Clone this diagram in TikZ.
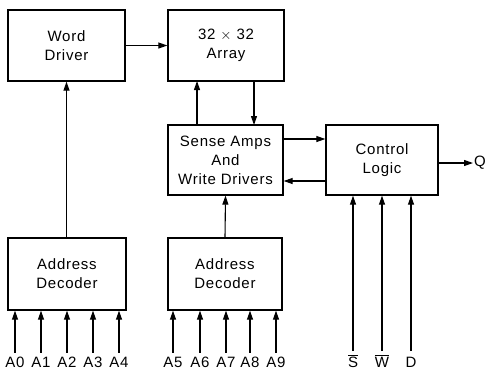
\documentclass[tikz,border=0pt]{standalone}
\usepackage{fontspec}
\setmainfont{Liberation Sans}[LetterSpace=5]
\usepackage{tikz}
\usetikzlibrary{arrows.meta,positioning,calc}

\begin{document}
\begin{tikzpicture}[
    x=1pt, y=-1pt,
    font=\fontsize{15}{19}\selectfont,
    blk/.style={draw, line width=1.3pt, inner sep=0pt, align=center},
    pin/.style={inner sep=1pt},
    arrow/.style={-{Triangle[length=9pt,width=6pt]}, line width=1.1pt}
]
\useasboundingbox (0,0) rectangle (486,373);

% Blocks
\node[blk, minimum width=117, minimum height=71] (wdrv) at (66.5,45.5) {Word\\Driver};
\node[blk, minimum width=116, minimum height=71] (arr) at (226,45.5) {32 $\times$ 32\\Array};
\node[blk, minimum width=115, minimum height=70] (sense) at (225.5,160) {Sense Amps\\And\\Write Drivers};
\node[blk, minimum width=112, minimum height=70] (ctrl) at (382,160) {Control\\Logic};
\node[blk, minimum width=118, minimum height=72] (dec1) at (67,274) {Address\\Decoder};
\node[blk, minimum width=114, minimum height=72] (dec2) at (225,274) {Address\\Decoder};

% Connections between blocks
\draw[arrow] (wdrv.east) -- (arr.west);
\draw[arrow] (dec1.north -| wdrv.south) -- (wdrv.south);
\draw[arrow] (197,125) -- (197,81);
\draw[arrow] (254,81) -- (254,125);
\draw[arrow] (dec2.north) -- (sense.south);
\draw[arrow] (sense.east |- 0,139) -- (ctrl.west |- 0,139);
\draw[arrow] (ctrl.west |- 0,181) -- (sense.east |- 0,181);

% Output
\node[pin, inner sep=0pt, anchor=west] (q) at (474,163) {Q};
\draw[arrow] (ctrl.east |- q.west) -- ([xshift=-1pt]q.west);

% Address inputs, low decoder
\node[pin] (a0) at (15,362) {A0};
\node[pin] (a1) at (41,362) {A1};
\node[pin] (a2) at (67,362) {A2};
\node[pin] (a3) at (93,362) {A3};
\node[pin] (a4) at (119,362) {A4};
\draw[arrow] ([yshift=3pt]a0.north) -- (a0 |- dec1.south);
\draw[arrow] ([yshift=3pt]a1.north) -- (a1 |- dec1.south);
\draw[arrow] ([yshift=3pt]a2.north) -- (a2 |- dec1.south);
\draw[arrow] ([yshift=3pt]a3.north) -- (a3 |- dec1.south);
\draw[arrow] ([yshift=3pt]a4.north) -- (a4 |- dec1.south);

% Address inputs, high decoder
\node[pin] (a5) at (173,362) {A5};
\node[pin] (a6) at (200,362) {A6};
\node[pin] (a7) at (226,362) {A7};
\node[pin] (a8) at (250,362) {A8};
\node[pin] (a9) at (276,362) {A9};
\draw[arrow] ([yshift=3pt]a5.north) -- (a5 |- dec2.south);
\draw[arrow] ([yshift=3pt]a6.north) -- (a6 |- dec2.south);
\draw[arrow] ([yshift=3pt]a7.north) -- (a7 |- dec2.south);
\draw[arrow] ([yshift=3pt]a8.north) -- (a8 |- dec2.south);
\draw[arrow] ([yshift=3pt]a9.north) -- (a9 |- dec2.south);

% Control inputs
\node[pin] (sbar) at (353,361) {$\overline{\mbox{S}}$};
\node[pin] (wbar) at (382,361) {$\overline{\mbox{W}}$};
\node[pin] (din) at (411,362) {D};
\draw[arrow] (353,351) -- (sbar |- ctrl.south);
\draw[arrow] (382,351) -- (wbar |- ctrl.south);
\draw[arrow] (411,351) -- (din |- ctrl.south);

\end{tikzpicture}
\end{document}
